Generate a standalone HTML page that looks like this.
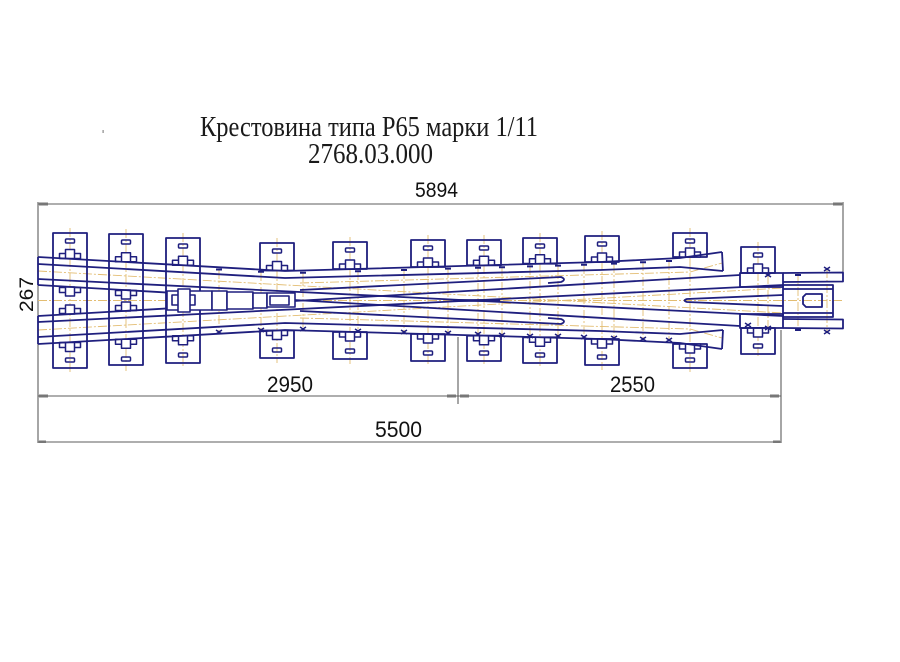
<!DOCTYPE html>
<html>
<head>
<meta charset="utf-8">
<style>
html,body{margin:0;padding:0;background:#fff;}
svg{display:block;}
</style>
</head>
<body>
<svg width="900" height="662" viewBox="0 0 900 662" xmlns="http://www.w3.org/2000/svg">
<rect width="900" height="662" fill="#ffffff"/>

<!-- Title -->
<text x="200" y="136" font-family="Liberation Serif, serif" font-size="29" fill="#1a1a1a" textLength="338" lengthAdjust="spacingAndGlyphs">Крестовина типа Р65 марки 1/11</text>
<text x="308" y="163" font-family="Liberation Serif, serif" font-size="29" fill="#1a1a1a" textLength="125" lengthAdjust="spacingAndGlyphs">2768.03.000</text>
<rect x="102.5" y="130" width="1.2" height="3" fill="#888"/>

<!-- Dimension lines -->
<g stroke="#5e5e5e" stroke-width="1.1" fill="none">
  <line x1="38" y1="204" x2="843" y2="204"/>
  <line x1="38" y1="202" x2="38" y2="443"/>
  <line x1="843" y1="202" x2="843" y2="278"/>
  <line x1="38" y1="396" x2="781" y2="396"/>
  <line x1="458" y1="337" x2="458" y2="404"/>
  <line x1="781" y1="330" x2="781" y2="443"/>
  <line x1="38" y1="442" x2="781" y2="442"/>
</g>
<g fill="#777">
  <rect x="39" y="202.5" width="9" height="3"/>
  <rect x="833" y="202.5" width="9" height="3"/>
  <rect x="39" y="394.5" width="9" height="3"/>
  <rect x="447" y="394.5" width="9" height="3"/>
  <rect x="460" y="394.5" width="9" height="3"/>
  <rect x="770" y="394.5" width="9" height="3"/>
  <rect x="39" y="440.5" width="7" height="2.5"/>
  <rect x="773" y="440.5" width="7" height="2.5"/>
</g>
<text x="415" y="197" font-family="Liberation Sans, sans-serif" font-size="21" fill="#111" textLength="43" lengthAdjust="spacingAndGlyphs">5894</text>
<text x="267" y="392" font-family="Liberation Sans, sans-serif" font-size="22" fill="#111" textLength="46" lengthAdjust="spacingAndGlyphs">2950</text>
<text x="610" y="392" font-family="Liberation Sans, sans-serif" font-size="22" fill="#111" textLength="45" lengthAdjust="spacingAndGlyphs">2550</text>
<text x="375" y="437" font-family="Liberation Sans, sans-serif" font-size="22" fill="#111" textLength="47" lengthAdjust="spacingAndGlyphs">5500</text>
<text transform="translate(33,312) rotate(-90)" x="0" y="0" font-family="Liberation Sans, sans-serif" font-size="19" fill="#111" textLength="35" lengthAdjust="spacingAndGlyphs">267</text>

<!-- Orange centre lines -->
<g stroke="#e3bd72" stroke-width="0.9" fill="none" stroke-dasharray="9 2 2 2">
  <line x1="38" y1="300.5" x2="843" y2="300.5"/>
  <path d="M38,271 L783,313"/>
  <path d="M38,330 L783,288"/>
  <path d="M300,283 L690,272 L722,263"/>
  <path d="M300,318 L690,329 L722,338"/>
  <line x1="70" y1="228" x2="70" y2="373"/>
  <line x1="126" y1="229" x2="126" y2="371"/>
  <line x1="183" y1="233" x2="183" y2="368"/>
  <line x1="277" y1="238" x2="277" y2="363"/>
  <line x1="350" y1="237" x2="350" y2="364"/>
  <line x1="428" y1="235" x2="428" y2="366"/>
  <line x1="484" y1="235" x2="484" y2="366"/>
  <line x1="540" y1="233" x2="540" y2="368"/>
  <line x1="602" y1="231" x2="602" y2="370"/>
  <line x1="690" y1="228" x2="690" y2="373"/>
  <line x1="758" y1="242" x2="758" y2="358"/>
  <line x1="219" y1="270" x2="219" y2="332"/>
  <line x1="261" y1="272" x2="261" y2="330"/>
  <line x1="303" y1="273" x2="303" y2="329"/>
  <line x1="358" y1="271" x2="358" y2="331"/>
  <line x1="404" y1="270" x2="404" y2="332"/>
  <line x1="448" y1="269" x2="448" y2="333"/>
  <line x1="478" y1="268" x2="478" y2="334"/>
  <line x1="502" y1="267" x2="502" y2="335"/>
  <line x1="530" y1="266" x2="530" y2="336"/>
  <line x1="558" y1="266" x2="558" y2="336"/>
  <line x1="584" y1="265" x2="584" y2="337"/>
  <line x1="614" y1="264" x2="614" y2="338"/>
  <line x1="643" y1="262" x2="643" y2="339"/>
  <line x1="669" y1="261" x2="669" y2="340"/>
  <line x1="798" y1="272" x2="798" y2="330"/>
  <line x1="827" y1="269" x2="827" y2="332"/>
  <line x1="768" y1="275" x2="768" y2="328"/>
</g>

<!-- Main navy drawing -->
<g stroke="#1f1f7e" stroke-width="1.8" fill="none" stroke-linejoin="round">
  <!-- full-height plates for left ties -->
  <rect x="53" y="233" width="34" height="135"/>
  <rect x="109" y="234" width="34" height="131"/>
  <rect x="166" y="238" width="34" height="125"/>

  <g id="h">
    <!-- plates (top) -->
    <rect x="260" y="243" width="34" height="27.5"/>
    <rect x="333" y="242" width="34" height="27"/>
    <rect x="411" y="240" width="34" height="27"/>
    <rect x="467" y="240" width="34" height="25.3"/>
    <rect x="523" y="238" width="34" height="25.7"/>
    <rect x="585" y="236" width="34" height="26"/>
    <rect x="673" y="233" width="34" height="24"/>
    <rect x="741" y="247" width="34" height="26"/>
    <!-- slots -->
    <g stroke-width="1.5">
      <rect x="65.5" y="239" width="9" height="4" rx="1"/>
      <rect x="121.5" y="240" width="9" height="4" rx="1"/>
      <rect x="178.5" y="244" width="9" height="4" rx="1"/>
      <rect x="272.5" y="249" width="9" height="4" rx="1"/>
      <rect x="345.5" y="248" width="9" height="4" rx="1"/>
      <rect x="423.5" y="246" width="9" height="4" rx="1"/>
      <rect x="479.5" y="246" width="9" height="4" rx="1"/>
      <rect x="535.5" y="244" width="9" height="4" rx="1"/>
      <rect x="597.5" y="242" width="9" height="4" rx="1"/>
      <rect x="685.5" y="239" width="9" height="4" rx="1"/>
      <rect x="753.5" y="253" width="9" height="4" rx="1"/>
    </g>
    <!-- clips -->
    <g stroke-width="1.5" fill="#fff">
      <rect x="59.5" y="253.5" width="21" height="5"/><rect x="65.5" y="249.5" width="9" height="9"/>
      <rect x="115.5" y="256.8" width="21" height="5"/><rect x="121.5" y="252.8" width="9" height="9"/>
      <rect x="172.5" y="260.2" width="21" height="5"/><rect x="178.5" y="256.2" width="9" height="9"/>
      <rect x="266.5" y="265.5" width="21" height="5"/><rect x="272.5" y="261.5" width="9" height="9"/>
      <rect x="339.5" y="264" width="21" height="5"/><rect x="345.5" y="260" width="9" height="9"/>
      <rect x="417.5" y="262" width="21" height="5"/><rect x="423.5" y="258" width="9" height="9"/>
      <rect x="473.5" y="260.3" width="21" height="5"/><rect x="479.5" y="256.3" width="9" height="9"/>
      <rect x="529.5" y="258.7" width="21" height="5"/><rect x="535.5" y="254.7" width="9" height="9"/>
      <rect x="591.5" y="257" width="21" height="5"/><rect x="597.5" y="253" width="9" height="9"/>
      <rect x="679.5" y="252" width="21" height="5"/><rect x="685.5" y="248" width="9" height="9"/>
      <rect x="747.5" y="268" width="21" height="5"/><rect x="753.5" y="264" width="9" height="9"/>
      <!-- inner clips -->
      <rect x="59.5" y="287.5" width="21" height="5"/><rect x="65.5" y="287" width="9" height="9"/>
      <rect x="115.5" y="290.5" width="21" height="5"/><rect x="121.5" y="290" width="9" height="9"/>
    </g>
    <!-- rails -->
    <path d="M38,257 L285,271 L600,262 L680,258 L722,252"/>
    <path d="M38,264 L285,278 L600,270 L680,267 L723,271"/>
    <path d="M722,252 L723,271"/>
    <path d="M38,279 L783,316"/>
    <path d="M38,285 L740,326"/>
    <path d="M300,290 L561,277 Q567,279.5 561,282 L548,283"/>
    <!-- right rail and body -->
    <rect x="740" y="273" width="43" height="14"/>
    <path d="M783,273 L843,272.5 L843,281.5 L783,282"/>
  </g>
  <use href="#h" transform="matrix(1 0 0 -1 0 601)"/>

  <!-- left-side ends -->
  <path d="M38,257 L38,285"/>
  <path d="M38,316 L38,344"/>

  <!-- central spacer blocks -->
  <g stroke-width="1.6" fill="#fff">
    <rect x="167" y="291" width="45" height="19"/>
    <rect x="172" y="295" width="23" height="10"/>
    <rect x="178" y="289" width="12" height="23"/>
    <rect x="212" y="291" width="15" height="19"/>
    <rect x="227" y="292" width="26" height="17"/>
    <rect x="253" y="293" width="14" height="15"/>
    <rect x="267" y="293" width="28" height="14"/>
    <rect x="270" y="296" width="19" height="9"/>
  </g>

  <!-- point -->
  <path d="M455,300.5 L500,300.5" stroke-width="2.8"/>
  <path d="M783,295 L687,299 Q682,300.5 687,302 L783,306"/>
  <!-- right block -->
  <rect x="783" y="285" width="50" height="32"/>
  <path d="M783,289 L833,289 M783,313 L833,313"/>
  <path d="M806,294 L822,294 L822,307 L806,307 L803,304 L803,297 Z"/>

  <!-- markers top (dashes) -->
  <g stroke-width="2">
    <path d="M216,269.5h6 M258,271.8h6 M300,272.8h6 M355,271.2h6 M401,270h6 M445,268.6h6 M475,267.8h6 M499,267.2h6 M527,266.4h6 M555,265.6h6 M581,264.8h6 M611,263.6h6 M640,262.2h6 M666,261h6 M795,275h6"/>
  </g>
  <!-- markers bottom (x) -->
  <g stroke-width="1.5">
    <path d="M216,330l6,4M222,330l-6,4 M258,328l6,4M264,328l-6,4 M300,327l6,4M306,327l-6,4 M355,329l6,4M361,329l-6,4 M401,330l6,4M407,330l-6,4 M445,331l6,4M451,331l-6,4 M475,332l6,4M481,332l-6,4 M499,333l6,4M505,333l-6,4 M527,334l6,4M533,334l-6,4 M555,334l6,4M561,334l-6,4 M581,335l6,4M587,335l-6,4 M611,336l6,4M617,336l-6,4 M640,337l6,4M646,337l-6,4 M666,338l6,4M672,338l-6,4 M824,267l6,4M830,267l-6,4 M824,330l6,4M830,330l-6,4 M765,273l6,4M771,273l-6,4 M745,323l6,4M751,323l-6,4 M765,326l6,4M771,326l-6,4"/>
    <path d="M795,330h6" stroke-width="2"/>
  </g>
</g>
</svg>
</body>
</html>
